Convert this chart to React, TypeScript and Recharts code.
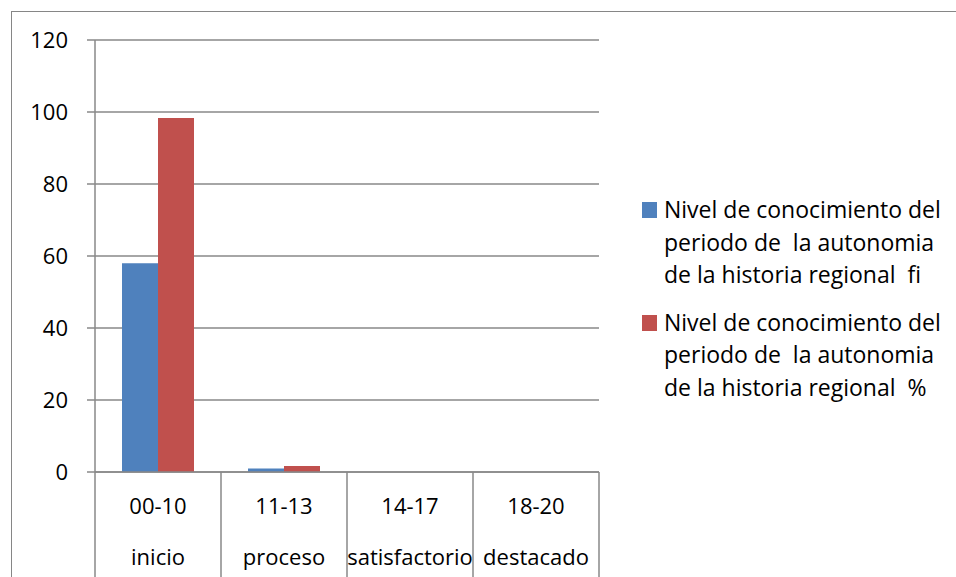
import React from 'react';
import { BarChart, Bar, XAxis, YAxis, CartesianGrid } from 'recharts';

const ranges = ['00-10', '11-13', '14-17', '18-20'];
const levels = ['inicio', 'proceso', 'satisfactorio', 'destacado'];
const fiValues = [58, 1, 0, 0];
const pctValues = [98.3, 1.7, 0, 0];
const yTicks = [0, 20, 40, 60, 80, 100, 120];

const seriesNames = [
  'Nivel de conocimiento del periodo de  la autonomia de la historia regional  fi',
  'Nivel de conocimiento del periodo de  la autonomia de la historia regional  %',
];
// the legend wraps each name onto three lines, as in the picture
const legendLines = [
  ['Nivel de conocimiento del', 'periodo de  la autonomia', 'de la historia regional  fi'],
  ['Nivel de conocimiento del', 'periodo de  la autonomia', 'de la historia regional  %'],
];
const seriesColors = ['#4F81BD', '#C0504D'];

const data = ranges.map((r, i) => ({
  range: r,
  level: levels[i],
  fi: fiValues[i],
  pct: pctValues[i],
}));

const W = 956;
const H = 577;
const PLOT_LEFT = 95;
const PLOT_RIGHT = 599;
const PLOT_TOP = 40;
const PLOT_BOTTOM = 472;
const HALF_BAND = (PLOT_RIGHT - PLOT_LEFT) / ranges.length / 2;
const GRID = '#888888';
const FONT = '"Open Sans", Lato, sans-serif';
const FS = 22;

const CategoryTick = (props: any) => {
  const { x, index, payload } = props;
  const i = index ?? 0;
  return (
    <g>
      {i === 0 && (
        <line x1={x - HALF_BAND} y1={PLOT_BOTTOM} x2={x - HALF_BAND} y2={H} stroke={GRID} strokeWidth={1.5} />
      )}
      <line x1={x + HALF_BAND} y1={PLOT_BOTTOM} x2={x + HALF_BAND} y2={H} stroke={GRID} strokeWidth={1.5} />
      <text x={x} y={514} textAnchor="middle" fontSize={FS} fontFamily={FONT} fill="#000">
        {payload.value}
      </text>
      <text x={x} y={565} textAnchor="middle" fontSize={FS} fontFamily={FONT} fill="#000">
        {levels[i]}
      </text>
    </g>
  );
};

const LegendBox = () => (
  <div
    style={{
      position: 'absolute',
      left: 642,
      top: 193,
      width: 314,
      fontFamily: FONT,
      fontSize: 23,
      color: '#000',
      fontVariantLigatures: 'none',
    }}
  >
    {seriesNames.map((name, s) => (
      <div key={name} style={{ position: 'relative', paddingLeft: 22, marginBottom: s === 0 ? 15 : 0 }}>
        <span
          style={{
            position: 'absolute',
            left: 0,
            top: 9,
            width: 15,
            height: 16,
            background: seriesColors[s],
          }}
        />
        {legendLines[s].map((l, k) => (
          <div key={k} style={{ lineHeight: '32.5px', whiteSpace: 'pre' }}>
            {l}
          </div>
        ))}
      </div>
    ))}
  </div>
);

export default function App() {
  return (
    <div
      style={{
        position: 'absolute',
        left: 0,
        top: 0,
        width: W,
        height: H,
        overflow: 'hidden',
        background: '#fff',
      }}
    >
      <div
        style={{
          position: 'absolute',
          left: 11,
          top: 11,
          width: 1000,
          height: 1000,
          border: '1px solid #868686',
        }}
      />
      <BarChart
        width={W}
        height={H}
        data={data}
        margin={{ top: PLOT_TOP, right: W - PLOT_RIGHT, bottom: 0, left: 0 }}
        barCategoryGap={27}
        barGap={0}
        style={{ position: 'absolute', left: 0, top: 0 }}
      >
        <CartesianGrid vertical={false} stroke={GRID} strokeWidth={1.5} />
        <XAxis
          dataKey="range"
          height={H - PLOT_BOTTOM}
          axisLine={{ stroke: GRID, strokeWidth: 1.5 }}
          tickLine={false}
          tick={<CategoryTick />}
          interval={0}
        />
        <YAxis
          width={PLOT_LEFT}
          domain={[0, 120]}
          ticks={yTicks}
          interval={0}
          tickSize={8}
          tickMargin={19}
          axisLine={{ stroke: GRID, strokeWidth: 1.5 }}
          tickLine={{ stroke: GRID, strokeWidth: 1.5 }}
          tick={{ fontSize: FS, fontFamily: FONT, fill: '#000' }}
        />
        <Bar dataKey="fi" name={seriesNames[0]} fill={seriesColors[0]} isAnimationActive={false} />
        <Bar dataKey="pct" name={seriesNames[1]} fill={seriesColors[1]} isAnimationActive={false} />
      </BarChart>
      <LegendBox />
    </div>
  );
}
